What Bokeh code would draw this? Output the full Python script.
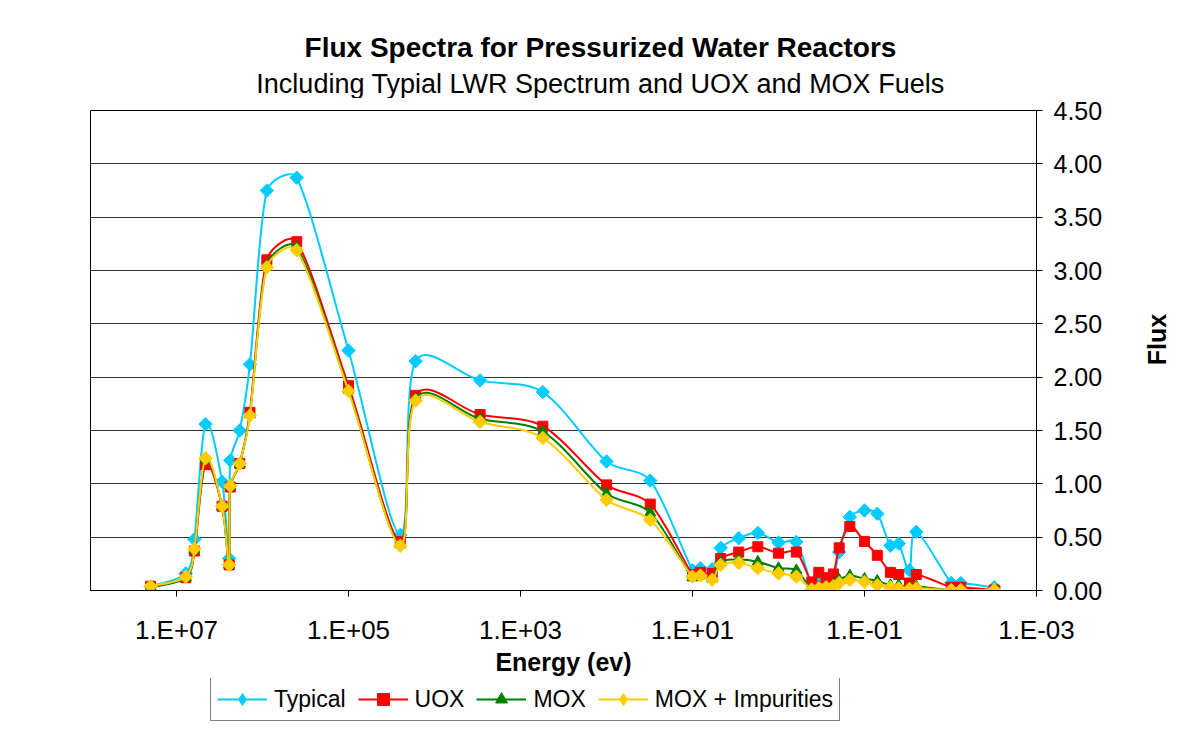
import math
from bokeh.plotting import figure
from bokeh.layouts import column, row
from bokeh.models import (Range1d, FixedTicker, CustomJSTickFormatter, NumeralTickFormatter,
                          Legend, LegendItem, Label, ColumnDataSource)
from bokeh.embed import file_html
from bokeh.resources import INLINE

# ---------------- data ----------------
energy = [2.0e7, 7.8e6, 6.2e6, 4.6e6, 2.95e6, 2.44e6, 2.37e6, 1.84e6, 1.40e6, 8.9e5,
          4.0e5, 1.0e5, 2.5e4, 1.66e4, 2.95e3, 5.5e2, 1.0e2, 31.0, 10.0, 8.1,
          5.9, 4.7, 2.9, 1.74, 1.0, 0.62, 0.41, 0.34, 0.28, 0.23,
          0.197, 0.148, 0.10, 0.071, 0.050, 0.040, 0.030, 0.025, 0.0098, 0.0076,
          0.0031]

typical = [0.04, 0.16, 0.48, 1.56, 1.02, 0.30, 1.22, 1.50, 2.12, 3.75,
           3.87, 2.25, 0.52, 2.15, 1.97, 1.86, 1.21, 1.03, 0.19, 0.21,
           0.20, 0.40, 0.49, 0.54, 0.45, 0.455, 0.06, 0.12, 0.08, 0.12,
           0.36, 0.69, 0.75, 0.72, 0.42, 0.44, 0.19, 0.55, 0.07, 0.07,
           0.03]

uox = [0.04, 0.12, 0.37, 1.18, 0.79, 0.24, 0.97, 1.19, 1.67, 3.10,
       3.27, 1.92, 0.46, 1.83, 1.65, 1.54, 0.99, 0.81, 0.15, 0.17,
       0.16, 0.30, 0.36, 0.41, 0.35, 0.36, 0.08, 0.17, 0.12, 0.155,
       0.40, 0.60, 0.46, 0.33, 0.17, 0.15, 0.07, 0.15, 0.03, 0.03,
       0.005]

mox = [0.03, 0.12, 0.38, 1.22, 0.79, 0.24, 0.98, 1.19, 1.65, 3.05,
       3.22, 1.88, 0.43, 1.80, 1.61, 1.49, 0.91, 0.73, 0.12, 0.14,
       0.11, 0.27, 0.29, 0.27, 0.21, 0.19, 0.01, 0.03, 0.04, 0.06,
       0.10, 0.14, 0.11, 0.09, 0.05, 0.05, 0.03, 0.04, 0.0, 0.0,
       0.0]

mox_impurities = [0.04, 0.13, 0.39, 1.24, 0.79, 0.24, 0.98, 1.19, 1.64, 3.03,
                  3.19, 1.87, 0.42, 1.78, 1.58, 1.43, 0.85, 0.66, 0.13, 0.14,
                  0.10, 0.24, 0.26, 0.21, 0.16, 0.13, 0.01, 0.02, 0.03, 0.04,
                  0.07, 0.10, 0.08, 0.05, 0.03, 0.02, 0.015, 0.02, 0.005, 0.005,
                  0.005]

series_names = ["Typical", "UOX", "MOX", "MOX + Impurities"]
x_tick_values = [1e7, 1e5, 1e3, 1e1, 1e-1, 1e-3]
x_tick_labels = ["1.E+07", "1.E+05", "1.E+03", "1.E+01", "1.E-01", "1.E-03"]
y_tick_values = [0.0, 0.5, 1.0, 1.5, 2.0, 2.5, 3.0, 3.5, 4.0, 4.5]

# ---------------- layout / styles ----------------
FONT = "Liberation Sans"
W = 1172
H_TITLE, H_PLOT, H_LEG = 98, 580, 44
W_FLUX = 32
W_PLOT = W - W_FLUX
BL, BR, BT, BB = 90, W_PLOT - 1036, 12, 87
FRAME_W, FRAME_H = W_PLOT - BL - BR, H_PLOT - BT - BB
X_MIN, X_MAX, Y_MIN, Y_MAX = 1e-3, 1e8, 0.0, 4.5

styles = [
    dict(color="#00CCFF", marker="square", angle=math.pi / 4, size=9.5, legend_marker="diamond"),
    dict(color="#FF0000", marker="square", angle=0.0, size=10, legend_marker="square"),
    dict(color="#008000", marker="triangle", angle=0.0, size=11, legend_marker="triangle"),
    dict(color="#FFCC00", marker="square", angle=math.pi / 4, size=9.5, legend_marker="diamond"),
]


def blank_strip(width, height, **borders):
    f = figure(width=width, height=height, x_range=Range1d(0, 1), y_range=Range1d(0, 1),
               output_backend="svg", toolbar_location=None, title=None,
               min_border_left=borders.get("left", 0), min_border_right=borders.get("right", 0),
               min_border_top=0, min_border_bottom=0)
    f.axis.visible = False
    f.grid.visible = False
    f.outline_line_color = None
    f.background_fill_color = "white"
    f.border_fill_color = "white"
    return f


# ---- title strip (its frame is aligned with the plot frame: x measured from x=90) ----
tf = blank_strip(W, H_TITLE, left=BL, right=W - BL - FRAME_W)
tf.add_layout(Label(x=600 - BL, y=H_TITLE - 47, x_units="screen", y_units="screen",
                    text="Flux Spectra for Pressurized Water Reactors",
                    text_align="center", text_baseline="middle", text_font=FONT,
                    text_font_style="bold", text_font_size="28px", text_color="black"))
tf.add_layout(Label(x=600 - BL, y=H_TITLE - 83, x_units="screen", y_units="screen",
                    text="Including Typial LWR Spectrum and UOX and MOX Fuels",
                    text_align="center", text_baseline="middle", text_font=FONT,
                    text_font_size="27px", text_color="black"))

# ---- main plot ----
p = figure(width=W_PLOT, height=H_PLOT, x_axis_type="log", y_axis_location="right",
           x_range=Range1d(X_MAX, X_MIN), y_range=Range1d(Y_MIN, Y_MAX),
           output_backend="svg", toolbar_location=None, title=None,
           min_border_left=BL, min_border_right=BR, min_border_top=BT, min_border_bottom=BB)
p.background_fill_color = "white"
p.border_fill_color = "white"
p.outline_line_color = "black"
p.outline_line_width = 1

p.xaxis.ticker = FixedTicker(ticks=x_tick_values, minor_ticks=[])
p.xaxis.formatter = CustomJSTickFormatter(args=dict(vals=x_tick_values, labs=x_tick_labels), code="""
let best = 0, bd = Infinity;
for (let i = 0; i < vals.length; i++) {
  const d = Math.abs(Math.log10(vals[i]) - Math.log10(tick));
  if (d < bd) { bd = d; best = i; }
}
return labs[best];
""")
p.yaxis.ticker = FixedTicker(ticks=y_tick_values, minor_ticks=[])
p.yaxis.formatter = NumeralTickFormatter(format="0.00")
for ax in (p.xaxis[0], p.yaxis[0]):
    ax.axis_line_color = "black"
    ax.major_tick_line_color = "black"
    ax.major_tick_out = 6
    ax.major_tick_in = 0
    ax.minor_tick_out = 0
    ax.minor_tick_in = 0
    ax.major_label_text_font = FONT
    ax.major_label_text_color = "black"
    ax.axis_label_text_font = FONT
    ax.axis_label_text_font_style = "bold"
    ax.axis_label_text_font_size = "25px"
    ax.axis_label_text_color = "black"
p.xaxis.major_label_text_font_size = "26px"
p.yaxis.major_label_text_font_size = "25px"
p.xaxis.major_label_standoff = 18
p.yaxis.major_label_standoff = 11
p.xaxis.axis_label = "Energy (ev)"
p.xaxis.axis_label_standoff = 0

p.xgrid.visible = False
p.ygrid.ticker = FixedTicker(ticks=y_tick_values, minor_ticks=[])
p.ygrid.grid_line_color = "#333333"
p.ygrid.grid_line_width = 1

# pixel scale factors (used only to shape the smoothed curve like Excel does)
PX_DEC = FRAME_W / (math.log10(X_MAX) - math.log10(X_MIN))
PX_UNIT = FRAME_H / (Y_MAX - Y_MIN)


def smooth_source(xs, ys):
    """Bezier control points for an Excel-like smoothed line (tangent from neighbours,
    handle length limited to a third of the segment)."""
    sx = [math.log10(v) * PX_DEC for v in xs]
    sy = [v * PX_UNIT for v in ys]
    n = len(sx)
    tang = []
    for i in range(n):
        a, b = max(i - 1, 0), min(i + 1, n - 1)
        dx, dy = sx[b] - sx[a], sy[b] - sy[a]
        ln = math.hypot(dx, dy) or 1.0
        tang.append((dx / ln, dy / ln, ln / 6.0))
    cols = dict(x0=[], y0=[], x1=[], y1=[], cx0=[], cy0=[], cx1=[], cy1=[])
    for i in range(n - 1):
        S = math.hypot(sx[i + 1] - sx[i], sy[i + 1] - sy[i]) / 3.0
        h0 = min(tang[i][2], S)
        h1 = min(tang[i + 1][2], S)
        c0x, c0y = sx[i] + tang[i][0] * h0, sy[i] + tang[i][1] * h0
        c1x, c1y = sx[i + 1] - tang[i + 1][0] * h1, sy[i + 1] - tang[i + 1][1] * h1
        cols["x0"].append(xs[i]); cols["y0"].append(ys[i])
        cols["x1"].append(xs[i + 1]); cols["y1"].append(ys[i + 1])
        cols["cx0"].append(10 ** (c0x / PX_DEC)); cols["cy0"].append(c0y / PX_UNIT)
        cols["cx1"].append(10 ** (c1x / PX_DEC)); cols["cy1"].append(c1y / PX_UNIT)
    return ColumnDataSource(cols)


# ---- "Flux" axis title strip (its frame is aligned vertically with the plot frame) ----
fx = blank_strip(W_FLUX, H_PLOT)
FRAME_BOTTOM_PAGE = H_TITLE + H_PLOT - BB  # 591
fx.add_layout(Label(x=W_FLUX / 2, y=FRAME_BOTTOM_PAGE - 340, x_units="screen", y_units="screen",
                    text="Flux", text_align="center", text_baseline="middle", angle=math.pi / 2,
                    text_font=FONT, text_font_style="bold", text_font_size="25px",
                    text_color="black"))

# ---- legend strip ----
lg = blank_strip(W, H_LEG, left=BL, right=W - BL - FRAME_W)

items = []
for name, ys, st in zip(series_names, [typical, uox, mox, mox_impurities], styles):
    c = st["color"]
    p.bezier(x0="x0", y0="y0", x1="x1", y1="y1", cx0="cx0", cy0="cy0", cx1="cx1", cy1="cy1",
             source=smooth_source(energy, ys), line_color=c, line_width=2)
    p.scatter(energy, ys, marker=st["marker"], angle=st["angle"], size=st["size"],
              fill_color=c, line_color=c)
    # off-range renderers (never visible) used only for the legend glyphs
    lr = lg.line([5, 6], [5, 5], line_color=c, line_width=2)
    mr = lg.scatter([5], [5], marker=st["legend_marker"], size=10, fill_color=c, line_color=c)
    items.append(LegendItem(label=name, renderers=[lr, mr]))

legend = Legend(items=items, orientation="horizontal", location=(120, 1))
legend.label_text_font = FONT
legend.label_text_font_size = "23px"
legend.label_text_color = "black"
legend.glyph_width = 50
legend.glyph_height = 30
legend.label_standoff = 7
legend.spacing = 12
legend.padding = 6
legend.margin = 0
legend.border_line_color = "black"
legend.border_line_width = 1
legend.background_fill_color = "white"
legend.background_fill_alpha = 1.0
lg.add_layout(legend)

layout = column(tf, row(p, fx, spacing=0), lg, spacing=0)
open("out.html", "w").write(file_html(layout, INLINE))
